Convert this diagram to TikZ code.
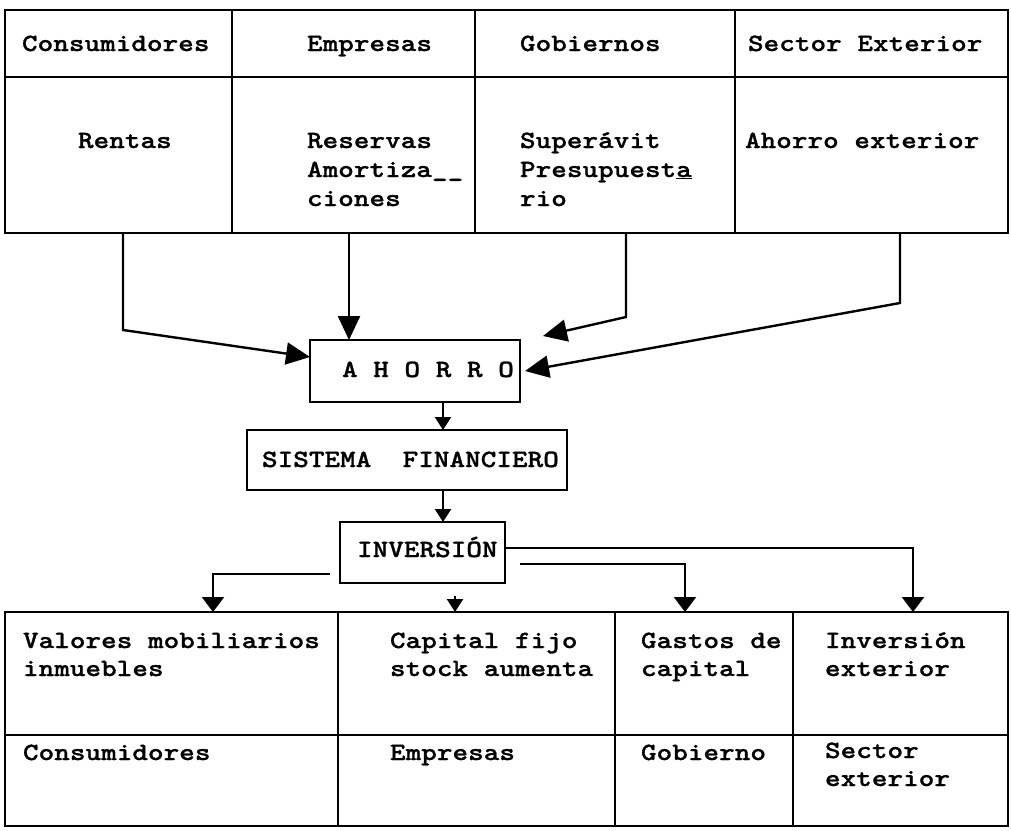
\documentclass[tikz,border=0pt]{standalone}
\usepackage{fontspec}
\newfontfamily\tw[FakeStretch=1.2,FakeBold=1]{lmmonolt10-bold.otf}
\usetikzlibrary{arrows.meta,calc}
\begin{document}
\begin{tikzpicture}[x=1pt,y=-1pt,
  cell/.style={draw, line width=2pt, inner sep=0pt, outer sep=0pt, anchor=north west},
  txt/.style={anchor=base west, inner sep=0pt, outer sep=0pt, font=\tw\fontsize{24.8}{28}\selectfont},
  conn/.style={line width=2.4pt},
  bigtip/.style={-{Triangle[length=24pt,width=22pt]}},
  midtip/.style={-{Triangle[length=15pt,width=22pt]}},
  smalltip/.style={-{Triangle[length=13pt,width=16pt]}}
]
\useasboundingbox (0,0) rectangle (1011,830);
% top table
\node[cell, minimum width=227pt, minimum height=67pt] (c1h) at (5,10) {};
\node[cell, minimum width=243pt, minimum height=67pt] (c2h) at (232,10) {};
\node[cell, minimum width=260pt, minimum height=67pt] (c3h) at (475,10) {};
\node[cell, minimum width=273pt, minimum height=67pt] (c4h) at (735,10) {};
\node[cell, minimum width=227pt, minimum height=156pt] (c1r) at (5,77) {};
\node[cell, minimum width=243pt, minimum height=156pt] (c2r) at (232,77) {};
\node[cell, minimum width=260pt, minimum height=156pt] (c3r) at (475,77) {};
\node[cell, minimum width=273pt, minimum height=156pt] (c4r) at (735,77) {};
\node[txt] (th1) at (22,51) {Consumidores};
\node[txt] (th2) at (307,51) {Empresas};
\node[txt] (th3) at (520,51) {Gobiernos};
\node[txt] (th4) at (748,51) {Sector Exterior};
\node[txt] (tb1) at (78,148) {Rentas};
\node[txt] (tb2a) at (307,148) {Reservas};
\node[txt] (tb2b) at (307,177) {Amortiza\_\_};
\node[txt] (tb2c) at (307,206) {ciones};
\node[txt] (tb3a) at (520,148) {Superávit};
\node[txt] (tb3b) at (520,177) {Presupuest\underline{a}};
\node[txt] (tb3c) at (520,206) {rio};
\node[txt] (tb4) at (745,148) {Ahorro exterior};
% middle boxes
\node[cell, minimum width=210pt, minimum height=62pt] (ahorro) at (310,340) {};
\node[txt] (ahorroT) at (342,377) {A H O R R O};
\node[cell, minimum width=320pt, minimum height=60pt] (sistema) at (247,430) {};
\node[txt] (sistemaT) at (262,467) {SISTEMA\ \ FINANCIERO};
\node[cell, minimum width=165pt, minimum height=61pt] (inv) at (340,522) {};
\node[txt] (invT) at (357,557) {INVERSIÓN};
% bottom table
\node[cell, minimum width=333pt, minimum height=123pt] (b1t) at (5,612) {};
\node[cell, minimum width=277pt, minimum height=123pt] (b2t) at (338,612) {};
\node[cell, minimum width=178pt, minimum height=123pt] (b3t) at (615,612) {};
\node[cell, minimum width=215pt, minimum height=123pt] (b4t) at (793,612) {};
\node[cell, minimum width=333pt, minimum height=91pt] (b1b) at (5,735) {};
\node[cell, minimum width=277pt, minimum height=91pt] (b2b) at (338,735) {};
\node[cell, minimum width=178pt, minimum height=91pt] (b3b) at (615,735) {};
\node[cell, minimum width=215pt, minimum height=91pt] (b4b) at (793,735) {};
\node[txt] (bb1a) at (23,648) {Valores mobiliarios};
\node[txt] (bb1b) at (23,676) {inmuebles};
\node[txt] (bb2a) at (390,648) {Capital fijo};
\node[txt] (bb2b) at (390,676) {stock aumenta};
\node[txt] (bb3a) at (641,648) {Gastos de};
\node[txt] (bb3b) at (641,676) {capital};
\node[txt] (bb4a) at (825,648) {Inversión};
\node[txt] (bb4b) at (825,676) {exterior};
\node[txt] (bc1) at (23,760) {Consumidores};
\node[txt] (bc2) at (390,760) {Empresas};
\node[txt] (bc3) at (641,760) {Gobierno};
\node[txt] (bc4a) at (825,758) {Sector};
\node[txt] (bc4b) at (825,786) {exterior};
% connectors into AHORRO
\draw[conn, bigtip] ([xshift=4.5pt]c1r.south) -- ++(0,97) -- ([yshift=14pt]ahorro.west);
\coordinate (m2) at ([xshift=-4.5pt]c2r.south);
\draw[conn, bigtip] (m2) -- (m2 |- ahorro.north);
\draw[conn, bigtip] ([xshift=21pt]c3r.south) -- ++(0,84) -- ([shift={(23pt,4pt)}]ahorro.north east);
\draw[conn, bigtip] ([xshift=28.5pt]c4r.south) -- ++(0,70) -- ([xshift=5pt]ahorro.east);
% vertical chain
\coordinate (x1) at ([xshift=28pt]ahorro.south);
\draw[conn, smalltip] (x1) -- (x1 |- sistema.north);
\coordinate (x2) at (x1 |- sistema.south);
\draw[conn, smalltip] (x2) -- (x2 |- inv.north);
% branches from INVERSION
\coordinate (o1) at ([yshift=4.5pt]inv.east);
\coordinate (e1) at ([xshift=12.5pt]b4t.north);
\draw[conn, midtip] (o1) -| (e1);
\coordinate (o2) at ([shift={(15pt,-11.5pt)}]inv.east);
\coordinate (e2) at ([xshift=-19pt]b3t.north);
\draw[conn, midtip] (o2) -| (e2);
\coordinate (o3) at ([shift={(-10pt,-21.5pt)}]inv.west);
\coordinate (e3) at ([xshift=41.5pt]b1t.north);
\draw[conn, midtip] (o3) -| (e3);
\coordinate (o4) at ([shift={(-21.5pt,16pt)}]b2t.north);
\draw[conn, smalltip] (o4) -- (o4 |- b2t.north);
\end{tikzpicture}
\end{document}
